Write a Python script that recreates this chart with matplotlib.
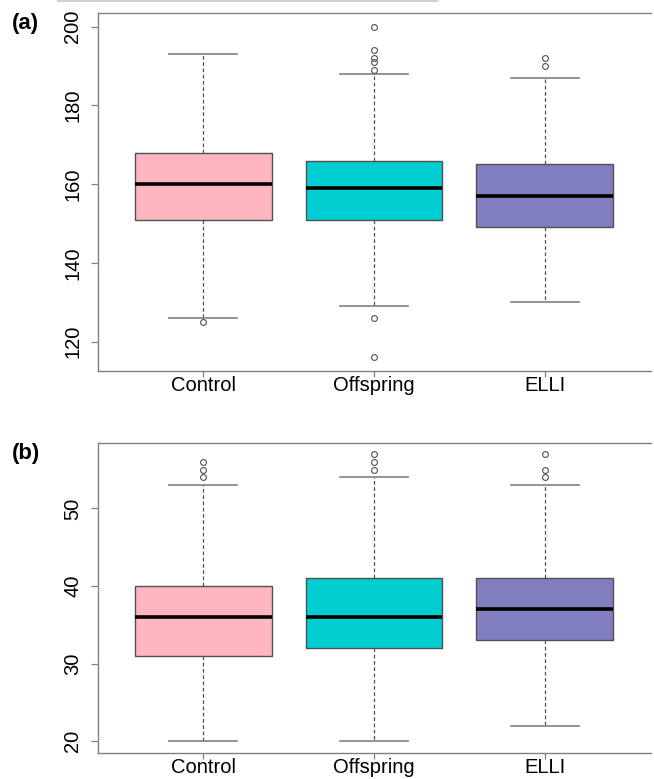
import matplotlib
matplotlib.use("Agg")
import matplotlib.pyplot as plt
from matplotlib.lines import Line2D

plt.rcParams['font.family'] = ['Liberation Sans', 'DejaVu Sans']

groups = ["Control", "Offspring", "ELLI"]
colors = ["#FFB6C1", "#00CED1", "#7F7FBF"]

# panel (a): whislo, q1, median, q3, whishi, outliers
a_whislo = [126, 129, 130]
a_q1 = [151, 151, 149]
a_med = [160, 159, 157]
a_q3 = [168, 166, 165]
a_whishi = [193, 188, 187]
a_fliers = [[125], [200, 194, 192, 191, 189, 126, 116], [192, 190]]
a_ticks = [120, 140, 160, 180, 200]

# panel (b)
b_whislo = [20, 20, 22]
b_q1 = [31, 32, 33]
b_med = [36, 36, 37]
b_q3 = [40, 41, 41]
b_whishi = [53, 54, 53]
b_fliers = [[56, 55, 54], [57, 56, 55], [57, 55, 54]]
b_ticks = [20, 30, 40, 50]


def make_stats(lo, q1, med, q3, hi, fl):
    stats = []
    for i in range(len(groups)):
        stats.append(dict(whislo=lo[i], q1=q1[i], med=med[i], q3=q3[i],
                          whishi=hi[i], fliers=fl[i], label=groups[i]))
    return stats


def draw_panel(ax, stats, ticks, ylim, tag):
    bp = ax.bxp(stats, positions=[1, 2, 3], widths=0.8, patch_artist=True,
                showfliers=True,
                boxprops=dict(edgecolor="#505050", linewidth=1.0),
                whiskerprops=dict(color="#505050", linestyle=(0, (3, 2)), linewidth=0.9),
                capprops=dict(color="#808080", linewidth=1.2),
                medianprops=dict(color="black", linewidth=2.6, solid_capstyle="butt"),
                flierprops=dict(marker="o", markerfacecolor="none",
                                markeredgecolor="#505050", markersize=4.2,
                                markeredgewidth=0.8, linestyle="none"))
    for patch, c in zip(bp["boxes"], colors):
        patch.set_facecolor(c)
    ax.set_xlim(0.38, 3.62)
    ax.set_ylim(*ylim)
    ax.set_yticks(ticks)
    ax.set_yticklabels([str(t) for t in ticks], rotation=90, va="center")
    ax.set_xticks([1, 2, 3])
    ax.set_xticklabels(groups)
    ax.tick_params(axis="y", length=5, width=0.9, color="#808080", pad=6, labelsize=14.5)
    ax.tick_params(axis="x", length=4, width=0.9, color="#808080", pad=0, labelsize=14.5)
    for s in ["left", "top", "bottom"]:
        ax.spines[s].set_color("#808080")
        ax.spines[s].set_linewidth(1.0)
    ax.spines["right"].set_visible(False)
    ax.text(-0.155, 1.0, tag, transform=ax.transAxes, fontsize=16,
            fontweight="bold", ha="left", va="top")


fig = plt.figure(figsize=(6.54, 7.79), dpi=100)
ax1 = fig.add_axes([0.1491, 0.5241, 0.8456, 0.4588])
ax2 = fig.add_axes([0.1491, 0.0340, 0.8456, 0.3977])

draw_panel(ax1, make_stats(a_whislo, a_q1, a_med, a_q3, a_whishi, a_fliers),
           a_ticks, (112.64, 203.36), "(a)")
draw_panel(ax2, make_stats(b_whislo, b_q1, b_med, b_q3, b_whishi, b_fliers),
           b_ticks, (18.52, 58.48), "(b)")

# faint leftover line at the top of the crop
fig.add_artist(Line2D([58 / 654, 437 / 654], [0.999, 0.999], color="#d0d0d0",
                      linewidth=1.5, transform=fig.transFigure))

fig.savefig("out.png", dpi=100)
